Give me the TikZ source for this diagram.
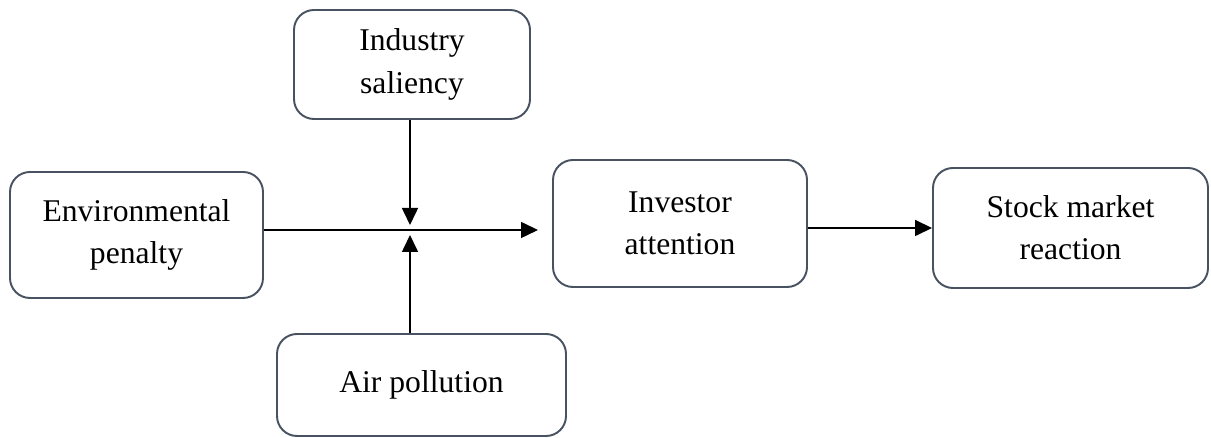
\documentclass[tikz,border=0pt]{standalone}
\usepackage{fontspec}
\setmainfont{Liberation Serif}
\usetikzlibrary{arrows.meta}
\definecolor{boxline}{RGB}{72,82,96}
\tikzset{
  factor/.style={draw=boxline, line width=1.1pt, rounded corners=0.4cm,
    align=center, inner sep=0pt, font=\fontsize{18}{24}\selectfont},
  link/.style={line width=0.9pt, -{Triangle[length=0.34cm, width=0.32cm]}}
}
\begin{document}
\begin{tikzpicture}
				  \useasboundingbox (0,0) rectangle (24.22,8.76);
				  \node[factor, minimum width=5.06cm, minimum height=2.52cm] (penalty) at (2.73,4.06) {Environmental\\penalty};
				  \node[factor, minimum width=4.72cm, minimum height=2.18cm] (saliency) at (8.24,7.47) {Industry\\saliency};
				  \node[factor, minimum width=5.78cm, minimum height=2.04cm] (pollution) at (8.43,1.06) {Air pollution};
				  \node[factor, minimum width=5.08cm, minimum height=2.54cm] (attention) at (13.6,4.29) {Investor\\attention};
				  \node[factor, minimum width=5.5cm, minimum height=2.4cm] (reaction) at (21.41,4.2) {Stock market\\reaction};
				  \coordinate (meet) at (8.2,4.16);
				  \coordinate (front) at (10.76,4.16);
				  \draw[link] (penalty.east |- meet) -- (front);
				  \draw[link] (saliency.south -| meet) -- ([yshift=0.1cm]meet);
				  \draw[link] (pollution.north -| meet) -- ([yshift=-0.1cm]meet);
				  \draw[link] (attention.east |- reaction.west) -- (reaction.west);
				\end{tikzpicture}
\end{document}
